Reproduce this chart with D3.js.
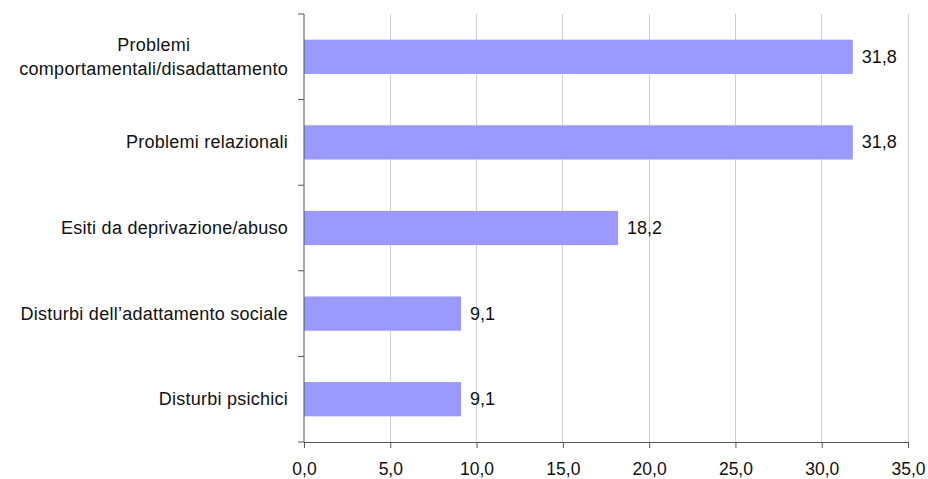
<!DOCTYPE html>
<html>
<head>
<meta charset="utf-8">
<script src="https://cdn.jsdelivr.net/npm/d3@7"></script>
<style>
  html, body { margin: 0; padding: 0; background: #fff; }
  svg { display: block; font-family: "Liberation Sans", Arial, sans-serif; }
</style>
</head>
<body>
<svg id="chart" width="928" height="479"></svg>
<script>
// Categories, top to bottom, with their percentage values
const categories = [
  ["Problemi", "comportamentali/disadattamento"],
  ["Problemi relazionali"],
  ["Esiti da deprivazione/abuso"],
  ["Disturbi dell\u2019adattamento sociale"],
  ["Disturbi psichici"]
];
const values = [31.8, 31.8, 18.2, 9.1, 9.1];
const tickValues = [0, 5, 10, 15, 20, 25, 30, 35];

const fmt = v => d3.format(".1f")(v).replace(".", ",");

const svg = d3.select("#chart");
const margin = { left: 304, right: 20, top: 14, bottom: 37 };
const W = 928, H = 479;
const fontSize = 18;

const x = d3.scaleLinear().domain([0, 35]).range([margin.left, 908]);
const y = d3.scaleBand().domain(d3.range(categories.length))
  .range([margin.top, H - margin.bottom]).paddingInner(0.6).paddingOuter(0.3);
const yBand = d3.scaleBand().domain(d3.range(categories.length))
  .range([margin.top, H - margin.bottom]);
const y0 = H - margin.bottom;

// vertical gridlines
svg.append("g").selectAll("line").data(tickValues.filter(d => d > 0)).join("line")
  .attr("x1", d => x(d)).attr("x2", d => x(d))
  .attr("y1", margin.top).attr("y2", y0)
  .attr("stroke", "#d0d0d0").attr("stroke-width", 1).attr("shape-rendering", "crispEdges");

// bars
svg.append("g").selectAll("rect").data(values).join("rect")
  .attr("x", x(0)).attr("y", (d, i) => y(i))
  .attr("width", d => x(d) - x(0)).attr("height", y.bandwidth())
  .attr("fill", "#9999ff");

// value labels
svg.append("g").selectAll("text").data(values).join("text")
  .attr("x", d => x(d) + 9).attr("y", (d, i) => y(i) + y.bandwidth() / 2)
  .attr("dy", "0.33em").attr("font-size", fontSize).attr("fill", "#111")
  .text(d => fmt(d));

// x axis
const xAxis = svg.append("g").attr("transform", `translate(0,${y0})`)
  .call(d3.axisBottom(x).tickValues(tickValues).tickFormat(fmt).tickSize(6));
xAxis.select(".domain").attr("stroke", "#555");
xAxis.selectAll(".tick line").attr("stroke", "#555");
xAxis.selectAll(".tick text").attr("font-size", 17.5).attr("fill", "#111")
  .attr("font-family", "Liberation Sans, Arial, sans-serif")
  .attr("y", 33).attr("dy", 0);

// y axis: band boundary ticks
const yAxisG = svg.append("g");
yAxisG.append("line").attr("x1", x(0)).attr("x2", x(0))
  .attr("y1", margin.top).attr("y2", y0).attr("stroke", "#555");
const bounds = d3.range(categories.length + 1).map(i =>
  i < categories.length ? yBand(i) : y0);
yAxisG.selectAll("line.t").data(bounds).join("line").attr("class", "t")
  .attr("x1", x(0) - 6).attr("x2", x(0)).attr("y1", d => d).attr("y2", d => d)
  .attr("stroke", "#555");

// category labels (multi-line labels centred as a block, block right-aligned)
const labelRight = 288;
categories.forEach((lines, i) => {
  const cy = yBand(i) + yBand.bandwidth() / 2;
  const t = svg.append("text").attr("font-size", fontSize).attr("fill", "#111")
    .attr("letter-spacing", 0.25);
  const lh = 24;
  lines.forEach((ln, k) => {
    t.append("tspan").attr("x", 0)
      .attr("y", cy + (k - (lines.length - 1) / 2) * lh)
      .attr("dy", "0.33em").text(ln);
  });
  const widths = t.selectAll("tspan").nodes().map(n => n.getComputedTextLength());
  const maxW = d3.max(widths);
  t.attr("text-anchor", "middle");
  t.selectAll("tspan").attr("x", labelRight - maxW / 2);
});
</script>
</body>
</html>
